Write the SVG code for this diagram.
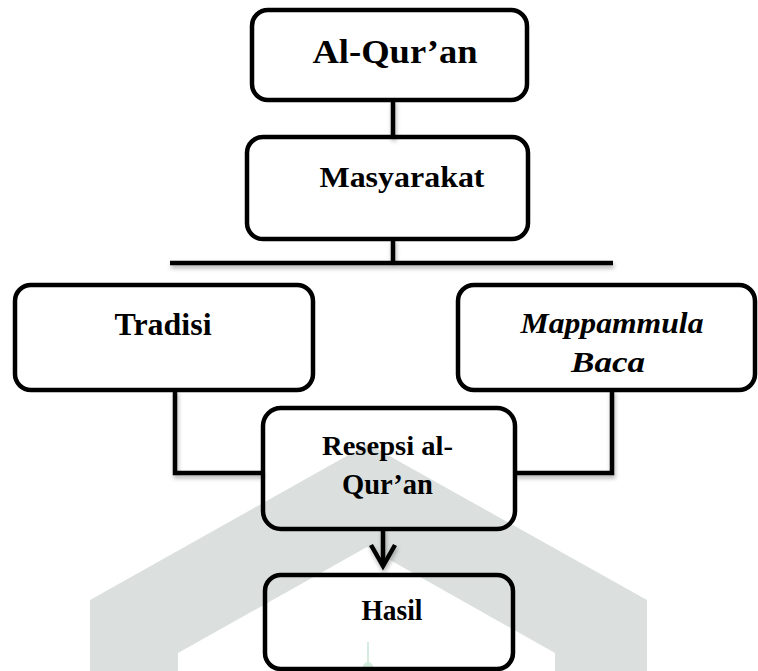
<svg xmlns="http://www.w3.org/2000/svg" width="758" height="671" viewBox="0 0 758 671">
  <defs>
    <filter id="sh" filterUnits="userSpaceOnUse" x="0" y="0" width="758" height="671">
      <feDropShadow dx="1" dy="3" stdDeviation="2" flood-color="#000" flood-opacity="0.3"/>
    </filter>
  </defs>
  <style>
    .box { fill: none; stroke: #000; stroke-width: 4.5; }
    .ln { fill: none; stroke: #000; stroke-width: 4.5; stroke-linecap: butt; stroke-linejoin: miter; }
    .t { font-weight: bold; fill: #000; text-anchor: middle; }
    .ti { font-style: italic; }
  </style>
  <rect x="0" y="0" width="758" height="671" fill="#fff"/>
  <g id="watermark">
    <path d="M90 671 L90 600 L368 444 L647 600 L647 671 L555 671 L555 653 L367 547 L178 653 L178 671 Z" fill="#dbe0de"/>
    <line x1="368" y1="642" x2="368" y2="671" stroke="#d5ebdf" stroke-width="2"/>
    <ellipse cx="368" cy="667" rx="5" ry="5" fill="#d3ecde"/>
  </g>
  <g id="connectors" filter="url(#sh)">
    <line class="ln" x1="393" y1="100" x2="393" y2="138"/>
    <line class="ln" x1="393" y1="239" x2="393" y2="263"/>
    <line class="ln" x1="170" y1="263" x2="613" y2="263"/>
    <polyline class="ln" points="175,390 175,473 263,473"/>
    <polyline class="ln" points="612,390 612,473 515,473"/>
    <line class="ln" x1="383" y1="528" x2="383" y2="564"/>
    <polyline class="ln" points="371,545 383,566 395,545"/>
  </g>
  <g font-family="'Liberation Serif', 'Times New Roman', serif">
  <g id="node-alquran">
    <rect class="box" x="252" y="10" width="275" height="90" rx="16"/>
    <text class="t" x="395" y="63" font-size="33" textLength="165" lengthAdjust="spacingAndGlyphs">Al-Qur’an</text>
  </g>
  <g id="node-masyarakat">
    <rect class="box" x="247" y="137" width="281" height="102" rx="16"/>
    <text class="t" x="402" y="187" font-size="30" textLength="165" lengthAdjust="spacingAndGlyphs">Masyarakat</text>
  </g>
  <g id="node-tradisi">
    <rect class="box" x="15" y="285" width="298" height="105" rx="16"/>
    <text class="t" x="163" y="335" font-size="32" textLength="97" lengthAdjust="spacingAndGlyphs">Tradisi</text>
  </g>
  <g id="node-mappammula">
    <rect class="box" x="458" y="285" width="297" height="105" rx="16"/>
    <text class="t ti" x="612" y="333" font-size="30" textLength="183" lengthAdjust="spacingAndGlyphs">Mappammula</text>
    <text class="t ti" x="608" y="372" font-size="30" textLength="74" lengthAdjust="spacingAndGlyphs">Baca</text>
  </g>
  <g id="node-resepsi">
    <rect class="box" x="263" y="408" width="252" height="121" rx="18"/>
    <text class="t" x="387.5" y="455" font-size="28" textLength="131" lengthAdjust="spacingAndGlyphs">Resepsi al-</text>
    <text class="t" x="387.5" y="494" font-size="28.5" textLength="91" lengthAdjust="spacingAndGlyphs">Qur’an</text>
  </g>
  <g id="node-hasil">
    <rect class="box" x="265" y="575" width="248" height="94" rx="16"/>
    <text class="t" x="392" y="620" font-size="29.5" textLength="61" lengthAdjust="spacingAndGlyphs">Hasil</text>
  </g>
  </g>
</svg>
